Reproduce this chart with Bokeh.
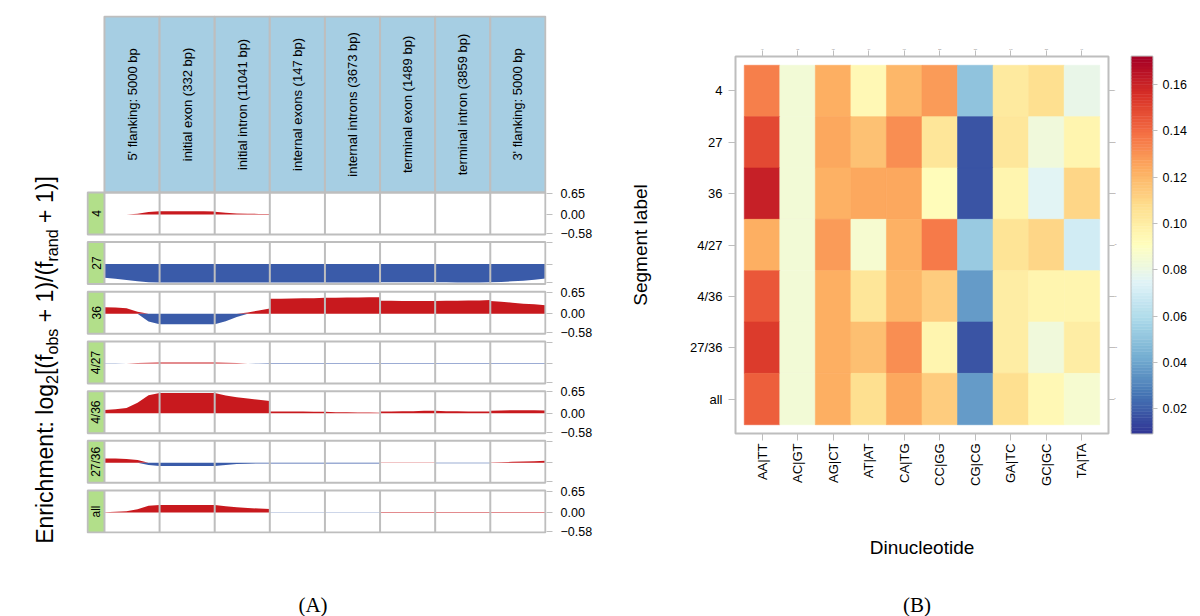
import numpy as np
from bokeh.plotting import figure
from bokeh.layouts import row, column
from bokeh.models import (ColumnDataSource, Range1d, FactorRange, FixedTicker, CustomJSTickFormatter,
                          PrintfTickFormatter, CategoricalAxis, LinearColorMapper, Div)
from bokeh.palettes import RdYlBu11
from bokeh.core.properties import value
from bokeh.embed import file_html
from bokeh.resources import INLINE

# ---------------- data: panel A ----------------
segments = ["5' flanking: 5000 bp", "initial exon (332 bp)", "initial intron (11041 bp)",
            "internal exons (147 bp)", "internal introns (3673 bp)", "terminal exon (1489 bp)",
            "terminal intron (3859 bp)", "3' flanking: 5000 bp"]
segment_labels = ["4", "27", "36", "4/27", "4/36", "27/36", "all"]
profile_pos = [0.0, 0.2, 0.4, 0.6, 0.8, 1.0]   # sampling positions inside each region

enrich_4 = [
    [0.00, 0.00, 0.00, 0.02, 0.07, 0.10],
    [0.10, 0.10, 0.10, 0.10, 0.10, 0.09],
    [0.08, 0.05, 0.03, 0.02, 0.015, 0.01],
    [0.00, 0.00, 0.00, 0.00, 0.00, 0.00],
    [0.00, 0.00, 0.00, 0.00, 0.00, 0.00],
    [0.00, 0.00, 0.00, 0.00, 0.00, 0.00],
    [0.00, 0.00, 0.00, 0.00, 0.00, 0.00],
    [0.00, 0.00, 0.00, 0.00, 0.00, 0.00],
]
enrich_27 = [
    [-0.42, -0.45, -0.49, -0.53, -0.56, -0.57],
    [-0.57, -0.57, -0.57, -0.57, -0.57, -0.57],
    [-0.57, -0.57, -0.57, -0.57, -0.57, -0.57],
    [-0.57, -0.57, -0.57, -0.57, -0.57, -0.57],
    [-0.57, -0.57, -0.57, -0.57, -0.57, -0.57],
    [-0.56, -0.56, -0.56, -0.56, -0.56, -0.56],
    [-0.56, -0.56, -0.57, -0.57, -0.57, -0.56],
    [-0.56, -0.55, -0.53, -0.51, -0.48, -0.44],
]
enrich_36 = [
    [0.20, 0.19, 0.17, 0.06, -0.24, -0.32],
    [-0.32, -0.32, -0.32, -0.32, -0.32, -0.32],
    [-0.32, -0.23, -0.10, 0.04, 0.10, 0.16],
    [0.46, 0.46, 0.47, 0.48, 0.48, 0.49],
    [0.49, 0.49, 0.50, 0.50, 0.51, 0.51],
    [0.40, 0.40, 0.39, 0.39, 0.39, 0.39],
    [0.39, 0.40, 0.40, 0.41, 0.41, 0.42],
    [0.39, 0.37, 0.34, 0.31, 0.29, 0.26],
]
enrich_4_27 = [
    [-0.01, -0.01, 0.00, 0.01, 0.025, 0.03],
    [0.03, 0.03, 0.03, 0.03, 0.03, 0.03],
    [0.03, 0.02, 0.01, 0.00, -0.01, -0.015],
    [-0.015, -0.015, -0.015, -0.015, -0.015, -0.015],
    [-0.015, -0.015, -0.015, -0.015, -0.015, -0.015],
    [-0.015, -0.015, -0.015, -0.015, -0.015, -0.015],
    [-0.015, -0.015, -0.015, -0.015, -0.015, -0.015],
    [-0.015, -0.015, -0.015, -0.015, -0.015, -0.015],
]
enrich_4_36 = [
    [0.10, 0.12, 0.16, 0.32, 0.55, 0.62],
    [0.62, 0.62, 0.62, 0.62, 0.62, 0.62],
    [0.62, 0.54, 0.49, 0.45, 0.41, 0.37],
    [0.05, 0.05, 0.05, 0.05, 0.04, 0.04],
    [0.04, 0.03, 0.03, 0.02, 0.02, 0.01],
    [0.05, 0.05, 0.06, 0.06, 0.07, 0.07],
    [0.07, 0.06, 0.06, 0.05, 0.05, 0.05],
    [0.07, 0.08, 0.09, 0.09, 0.09, 0.08],
]
enrich_27_36 = [
    [0.13, 0.13, 0.12, 0.09, -0.07, -0.10],
    [-0.10, -0.10, -0.10, -0.10, -0.10, -0.10],
    [-0.10, -0.07, -0.04, -0.03, -0.02, -0.02],
    [-0.02, -0.02, -0.02, -0.02, -0.02, -0.02],
    [-0.02, -0.02, -0.02, -0.02, -0.02, -0.02],
    [0.01, 0.01, 0.01, 0.01, 0.01, 0.01],
    [-0.01, -0.01, -0.01, -0.01, -0.01, -0.01],
    [0.01, 0.02, 0.03, 0.04, 0.05, 0.06],
]
enrich_all = [
    [0.01, 0.02, 0.04, 0.10, 0.21, 0.23],
    [0.23, 0.23, 0.23, 0.23, 0.23, 0.23],
    [0.23, 0.19, 0.16, 0.14, 0.12, 0.11],
    [-0.01, -0.01, -0.01, -0.01, -0.01, -0.01],
    [-0.01, -0.01, -0.01, -0.01, -0.01, -0.01],
    [0.015, 0.015, 0.015, 0.015, 0.015, 0.015],
    [0.015, 0.015, 0.015, 0.015, 0.015, 0.015],
    [0.015, 0.015, 0.015, 0.015, 0.015, 0.015],
]
enrichment = [enrich_4, enrich_27, enrich_36, enrich_4_27, enrich_4_36, enrich_27_36, enrich_all]
axis_ticks_A = [0.65, 0.0, -0.58]
axis_tick_labels_A = ["0.65", "0.00", "\u22120.58"]

# ---------------- data: panel B ----------------
dinucleotides = ["AA|TT", "AC|GT", "AG|CT", "AT|AT", "CA|TG", "CC|GG", "CG|CG", "GA|TC", "GC|GC", "TA|TA"]
heat_4 = [0.135, 0.084, 0.123, 0.094, 0.120, 0.128, 0.050, 0.102, 0.107, 0.079]
heat_27 = [0.149, 0.084, 0.125, 0.117, 0.131, 0.104, 0.017, 0.103, 0.083, 0.096]
heat_36 = [0.161, 0.084, 0.122, 0.125, 0.125, 0.092, 0.017, 0.096, 0.076, 0.110]
heat_4_27 = [0.123, 0.084, 0.128, 0.086, 0.122, 0.136, 0.053, 0.105, 0.110, 0.070]
heat_4_36 = [0.145, 0.084, 0.123, 0.104, 0.120, 0.113, 0.037, 0.100, 0.096, 0.096]
heat_27_36 = [0.153, 0.084, 0.123, 0.118, 0.131, 0.096, 0.017, 0.100, 0.083, 0.100]
heat_all = [0.143, 0.084, 0.123, 0.107, 0.125, 0.113, 0.037, 0.107, 0.094, 0.086]
heat_values = [heat_4, heat_27, heat_36, heat_4_27, heat_4_36, heat_27_36, heat_all]
colorbar_ticks = [0.02, 0.04, 0.06, 0.08, 0.10, 0.12, 0.14, 0.16]
CB_LOW, CB_HIGH = 0.0092, 0.1722

# ---------------- styles ----------------
FONT = "Liberation Sans"
GRAY = "#BEBEBE"
RED = "#C8191E"
BLUE = "#3A5BA9"
HEADER_FILL = "#A6CEE3"
STRIP_FILL = "#B2DF8A"

# palette: RdYlBu, blue (low) -> red (high), smoothly interpolated
base = list(RdYlBu11)
if base[0].lower() in ("#a50026",):
    base = base[::-1]
rgb = np.array([[int(c[i:i + 2], 16) for i in (1, 3, 5)] for c in base], dtype=float)
tpos = np.linspace(0, 1, len(base))
tt = np.linspace(0, 1, 256)
palette = ["#%02x%02x%02x" % tuple(int(round(np.interp(t, tpos, rgb[:, ch]))) for ch in range(3)) for t in tt]

# ---------------- panel A (one faceted figure) ----------------
S = 0.306                       # strip width (x units)
ROW_HI, ROW_LO = 0.675, -0.615  # per-row value range
ROW_SPAN = ROW_HI - ROW_LO
GAP = 0.2365
HEADER_H = 5.405
n_rows = len(segment_labels)
y_bottom = -((n_rows - 1) * (ROW_SPAN + GAP) + ROW_SPAN)

pA = figure(width=510, height=548, x_range=Range1d(-S - 0.02, 8.02),
            y_range=Range1d(y_bottom - 0.03, HEADER_H + 0.03),
            x_axis_location=None, y_axis_location="right",
            min_border_left=1, min_border_right=46, min_border_top=15, min_border_bottom=15,
            output_backend="svg", toolbar_location=None)
pA.grid.visible = False
pA.outline_line_color = None

hsrc = ColumnDataSource(dict(left=list(range(8)), right=list(range(1, 9)), label=segments,
                             xc=[i + 0.5 for i in range(8)], yc=[HEADER_H / 2] * 8))
pA.quad(left="left", right="right", bottom=0, top=HEADER_H, source=hsrc,
        fill_color=HEADER_FILL, line_color=GRAY, line_width=2)
pA.text(x="xc", y="yc", text="label", angle=np.pi / 2, source=hsrc, text_align="center",
        text_baseline="middle", text_font=value(FONT), text_font_size="13px", text_color="black")

tick_vals, tick_labs = [], []
tops, bottoms, centers = [], [], []
for k, vals in enumerate(enrichment):
    top = -k * (ROW_SPAN + GAP)
    zero = top - ROW_HI
    bottom = top - ROW_SPAN
    tops.append(top); bottoms.append(bottom); centers.append((top + bottom) / 2)
    for i, seg in enumerate(vals):
        xs = [i + f for f in profile_pos]
        pos = [zero + max(v, 0.0) for v in seg]
        neg = [zero + min(v, 0.0) for v in seg]
        if max(seg) > 0:
            pA.varea(x=xs, y1=[zero] * len(xs), y2=pos, fill_color=RED)
        if min(seg) < 0:
            pA.varea(x=xs, y1=[zero] * len(xs), y2=neg, fill_color=BLUE)
    for v, lab in zip(axis_ticks_A, axis_tick_labels_A):
        tick_vals.append(round(zero + v, 4))
        tick_labs.append(lab if k % 2 == 0 else "")

# strips
pA.quad(left=[-S] * n_rows, right=[0] * n_rows, bottom=bottoms, top=tops,
        fill_color=STRIP_FILL, line_color=None)
# vertical separators
gx0, gy0, gy1 = [], [], []
for k in range(n_rows):
    for xv in range(0, 8):
        gx0.append(xv); gy0.append(bottoms[k]); gy1.append(tops[k])
pA.segment(x0=gx0, x1=gx0, y0=gy0, y1=gy1, line_color=GRAY, line_width=2)
# panel borders
pA.quad(left=[-S] * n_rows, right=[8] * n_rows, bottom=bottoms, top=tops,
        fill_color=None, line_color=GRAY, line_width=2)
pA.text(x=[-S / 2] * n_rows, y=centers, text=segment_labels, angle=np.pi / 2,
        text_align="center", text_baseline="middle", text_font=value(FONT),
        text_font_size="12px", text_color="black")

order = np.argsort(tick_vals)
ts = [float(tick_vals[i]) for i in order]
ls = [tick_labs[i] for i in order]
pA.yaxis.ticker = FixedTicker(ticks=ts)
pA.yaxis.formatter = CustomJSTickFormatter(args=dict(ts=ts, ls=ls), code="""
for (let i = 0; i < ts.length; i++) { if (Math.abs(ts[i] - tick) < 1e-6) return ls[i]; }
return '';
""")
pA.yaxis.axis_line_color = None
pA.yaxis.major_tick_line_color = GRAY
pA.yaxis.major_tick_out = 6
pA.yaxis.major_tick_in = 0
pA.yaxis.minor_tick_line_color = None
pA.yaxis.major_label_standoff = 8
pA.yaxis.major_label_text_font = FONT
pA.yaxis.major_label_text_font_size = "12.5px"
pA.yaxis.major_label_text_color = "black"

ylabel_html = (
    '<div style="position:relative;width:85px;height:616px;">'
    '<div style="position:absolute;left:47px;top:360px;transform:translate(-50%,-50%) rotate(-90deg);'
    'white-space:nowrap;font-family:\'Liberation Sans\';font-size:23px;color:black;line-height:1;">'
    'Enrichment: log<sub style="font-size:70%;">2</sub>[(f<sub style="font-size:70%;">obs</sub> + 1)/'
    '(f<sub style="font-size:70%;">rand</sub> + 1)]</div></div>')
ylabel_div = Div(text=ylabel_html, width=85, height=616, margin=(0, 0, 0, 0))

capA = Div(text='<div style="position:relative;width:510px;height:68px;">'
                '<div style="position:absolute;left:228px;top:57px;transform:translate(-50%,-50%);'
                'font-family:\'Liberation Serif\';font-size:21px;color:black;">(A)</div></div>',
           width=510, height=68, margin=(0, 0, 0, 0))

# ---------------- panel B heatmap ----------------
xs_h, ys_h, vs_h = [], [], []
for lab, vals in zip(segment_labels, heat_values):
    for d, v in zip(dinucleotides, vals):
        xs_h.append(d); ys_h.append(lab); vs_h.append(v)
hm_src = ColumnDataSource(dict(x=xs_h, y=ys_h, v=vs_h))
mapper = LinearColorMapper(palette=palette, low=CB_LOW, high=CB_HIGH)

pB = figure(width=526, height=576,
            x_range=FactorRange(factors=dinucleotides, range_padding=0.247, range_padding_units="absolute"),
            y_range=FactorRange(factors=list(reversed(segment_labels)), range_padding=0.171,
                                range_padding_units="absolute"),
            min_border_left=140, min_border_right=13, min_border_top=56, min_border_bottom=143,
            output_backend="svg", toolbar_location=None)
pB.rect(x="x", y="y", width=1, height=1, source=hm_src,
        fill_color={"field": "v", "transform": mapper},
        line_color={"field": "v", "transform": mapper}, line_width=0.6)
pB.grid.visible = False
pB.outline_line_color = GRAY
pB.outline_line_width = 2

for ax in (pB.xaxis[0], pB.yaxis[0]):
    ax.axis_line_color = None
    ax.major_tick_line_color = GRAY
    ax.major_tick_out = 7
    ax.major_tick_in = 0
    ax.major_label_text_font = FONT
    ax.major_label_text_font_size = "13px"
    ax.major_label_text_color = "black"
    ax.axis_label_text_font = FONT
    ax.axis_label_text_font_size = "19px"
    ax.axis_label_text_font_style = "normal"
    ax.axis_label_text_color = "black"
pB.xaxis.major_label_orientation = np.pi / 2
pB.xaxis.major_label_standoff = 3
pB.xaxis.axis_label = "Dinucleotide"
pB.xaxis.axis_label_standoff = 48
pB.yaxis.major_label_standoff = 6
pB.yaxis.axis_label = "Segment label"
pB.yaxis.axis_label_standoff = 36

top_ax = CategoricalAxis(major_label_overrides={d: "" for d in dinucleotides}, axis_line_color=None,
                         major_tick_line_color=GRAY, major_tick_out=6, major_tick_in=0,
                         major_label_text_font_size="1px", major_label_standoff=0)
right_ax = CategoricalAxis(major_label_overrides={s: "" for s in segment_labels}, axis_line_color=None,
                           major_tick_line_color=GRAY, major_tick_out=6, major_tick_in=0,
                           major_label_text_font_size="1px", major_label_standoff=0)
pB.add_layout(top_ax, "above")
pB.add_layout(right_ax, "right")

# ---------------- colour key ----------------
levels = np.linspace(CB_LOW, CB_HIGH, 121)
cb_src = ColumnDataSource(dict(bottom=levels[:-1], top=levels[1:], mid=(levels[:-1] + levels[1:]) / 2))
pC = figure(width=71, height=576, x_range=Range1d(0, 1), y_range=Range1d(CB_LOW, CB_HIGH),
            x_axis_location=None, y_axis_location="right",
            min_border_left=10, min_border_right=40, min_border_top=55, min_border_bottom=143,
            output_backend="svg", toolbar_location=None)
pC.quad(left=0, right=1, bottom="bottom", top="top", source=cb_src,
        fill_color={"field": "mid", "transform": mapper},
        line_color={"field": "mid", "transform": mapper}, line_width=0.5)
pC.grid.visible = False
pC.outline_line_color = GRAY
pC.outline_line_width = 2
pC.yaxis.ticker = FixedTicker(ticks=colorbar_ticks)
pC.yaxis.formatter = PrintfTickFormatter(format="%.2f")
pC.yaxis.axis_line_color = None
pC.yaxis.major_tick_line_color = GRAY
pC.yaxis.major_tick_out = 5
pC.yaxis.major_tick_in = 0
pC.yaxis.minor_tick_line_color = None
pC.yaxis.major_label_standoff = 5
pC.yaxis.major_label_text_font = FONT
pC.yaxis.major_label_text_font_size = "12.5px"
pC.yaxis.major_label_text_color = "black"

capB = Div(text='<div style="position:relative;width:597px;height:40px;">'
                '<div style="position:absolute;left:322px;top:29px;transform:translate(-50%,-50%);'
                'font-family:\'Liberation Serif\';font-size:21px;color:black;">(B)</div></div>',
           width=597, height=40, margin=(0, 0, 0, 0))

layout = row(ylabel_div, column(pA, capA), column(row(pB, pC), capB))
open("out.html", "w").write(file_html(layout, INLINE))
